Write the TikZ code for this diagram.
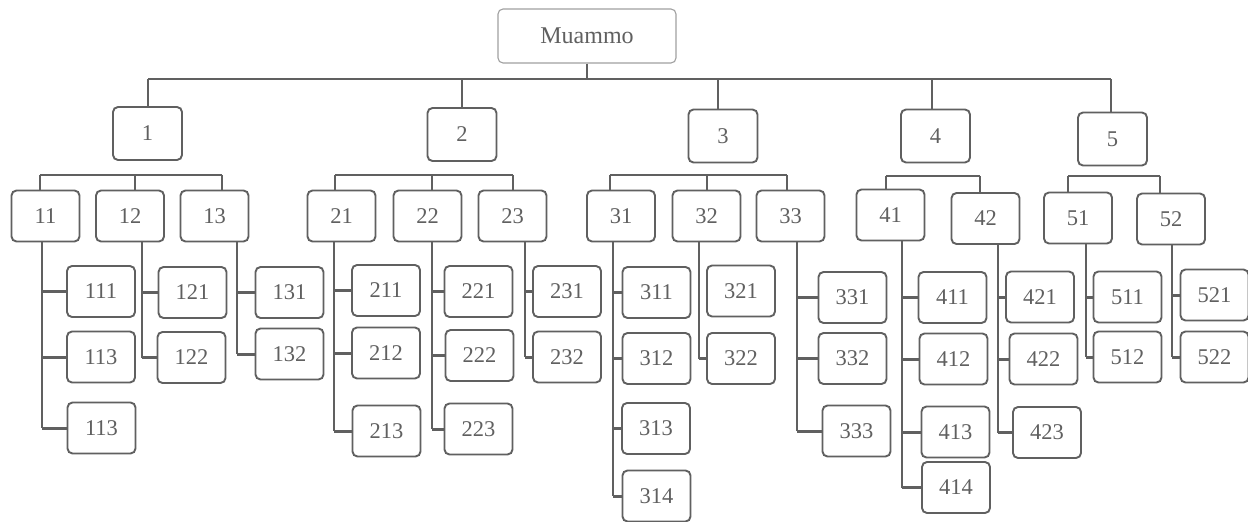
\documentclass[tikz,border=0pt]{standalone}
\usepackage{fontspec}
\setmainfont{Liberation Serif}
\usetikzlibrary{calc}
\definecolor{ln}{HTML}{606060}
\definecolor{tx}{HTML}{606060}
\definecolor{lb}{HTML}{A0A0A0}
\begin{document}
\begin{tikzpicture}[x=1pt,y=-1pt,
 box/.style={draw=ln, line width=1.9pt, rounded corners=5pt, minimum width=68pt, minimum height=51pt, inner sep=0pt, text=tx, font=\fontsize{22.5}{26}\selectfont},
 lvone/.style={box, minimum width=69pt, minimum height=53pt},
 root/.style={box, draw=lb, line width=1.1pt, minimum width=178pt, minimum height=54pt, font=\fontsize{24}{28}\selectfont},
 bus/.style={draw=ln, line width=1.6pt},
 drop/.style={draw=ln, line width=1.1pt},
 spine/.style={draw=ln, line width=2pt},
 stub/.style={draw=ln, line width=3pt}]
\useasboundingbox (0,0) rectangle (1248,522);
\fill[white] (0,0) rectangle (1248,522);

% root
\node[root] (root) at (587,36) {Muammo};
% level 1
\node[lvone] (n1) at (147.5,133.5) {1};
\node[lvone] (n2) at (462,134.5) {2};
\node[lvone] (n3) at (723,136) {3};
\node[lvone] (n4) at (935.5,136) {4};
\node[lvone] (n5) at (1112.5,139) {5};
% level 2
\node[box] (n11) at (45.5,216) {11};
\node[box] (n12) at (130,216) {12};
\node[box] (n13) at (214.5,216) {13};
\node[box] (n21) at (341.5,216) {21};
\node[box] (n22) at (427.5,216) {22};
\node[box] (n23) at (512.5,216) {23};
\node[box] (n31) at (621,216) {31};
\node[box] (n32) at (706.5,216) {32};
\node[box] (n33) at (790.5,216) {33};
\node[box] (n41) at (890.5,215) {41};
\node[box] (n42) at (985.5,218.5) {42};
\node[box] (n51) at (1078,218) {51};
\node[box] (n52) at (1171,219) {52};
% level 3
\node[box] (n111) at (101,291.5) {111};
\node[box] (n113a) at (101,357) {113};
\node[box] (n113b) at (101.5,428) {113};
\node[box] (n121) at (192.5,292.5) {121};
\node[box] (n122) at (191.5,357.5) {122};
\node[box] (n131) at (289.5,292.5) {131};
\node[box] (n132) at (289.5,354) {132};
\node[box] (n211) at (386,290.5) {211};
\node[box] (n212) at (386,353) {212};
\node[box] (n213) at (386.5,431) {213};
\node[box] (n221) at (478.5,291.5) {221};
\node[box] (n222) at (479.5,355.5) {222};
\node[box] (n223) at (478.5,429) {223};
\node[box] (n231) at (567,291.5) {231};
\node[box] (n232) at (567,357) {232};
\node[box] (n311) at (656.5,292.5) {311};
\node[box] (n312) at (656.5,358.5) {312};
\node[box] (n313) at (656,428.5) {313};
\node[box] (n314) at (656.5,496) {314};
\node[box] (n321) at (741,291) {321};
\node[box] (n322) at (741,358.5) {322};
\node[box] (n331) at (852.5,297.5) {331};
\node[box] (n332) at (852.5,358.5) {332};
\node[box] (n333) at (856.5,431) {333};
\node[box] (n411) at (952.5,297.5) {411};
\node[box] (n412) at (953.5,359) {412};
\node[box] (n413) at (955.5,432) {413};
\node[box] (n414) at (956,487.5) {414};
\node[box] (n421) at (1040,297) {421};
\node[box] (n422) at (1043.5,359) {422};
\node[box] (n423) at (1047,432.5) {423};
\node[box] (n511) at (1127.5,297) {511};
\node[box] (n512) at (1127.5,357) {512};
\node[box] (n521) at (1214.5,295) {521};
\node[box] (n522) at (1214.5,357) {522};

% top bus
\coordinate (top) at (0,79);
\draw[drop] (root.south) -- (root.south |- top);
\draw[bus] (n1.north) ++(0.5,0) coordinate (t1) -- (t1 |- top);
\draw[bus] (n2.north) coordinate (t2) -- (t2 |- top);
\draw[bus] (n3.north) ++(-5,0) coordinate (t3) -- (t3 |- top);
\draw[bus] (n4.north) ++(-3.5,0) coordinate (t4) -- (t4 |- top);
\draw[bus] (n5.north) ++(-1.5,0) coordinate (t5) -- (t5 |- top);
\draw[bus] (t1 |- top) -- (t5 |- top);

% level-2 buses
\coordinate (ba) at (0,175);
\coordinate (bb) at (0,176);
\draw[drop] (n11.north) ++(-5.5,0) coordinate (d11) -- (d11 |- ba);
\draw[drop] (n12.north) ++(5,0) coordinate (d12) -- (d12 |- ba);
\draw[drop] (n13.north) ++(7.5,0) coordinate (d13) -- (d13 |- ba);
\draw[bus] (d11 |- ba) -- (d13 |- ba);
\draw[drop] (n21.north) ++(-6.5,0) coordinate (d21) -- (d21 |- ba);
\draw[drop] (n22.north) ++(4.5,0) coordinate (d22) -- (d22 |- ba);
\draw[drop] (n23.north) ++(0.5,0) coordinate (d23) -- (d23 |- ba);
\draw[bus] (d21 |- ba) -- (d23 |- ba);
\draw[drop] (n31.north) ++(-11,0) coordinate (d31) -- (d31 |- ba);
\draw[drop] (n32.north) ++(0.5,0) coordinate (d32) -- (d32 |- ba);
\draw[drop] (n33.north) ++(-3.5,0) coordinate (d33) -- (d33 |- ba);
\draw[bus] (d31 |- ba) -- (d33 |- ba);
\draw[drop] (n41.north) ++(-4.5,0) coordinate (d41) -- (d41 |- bb);
\draw[drop] (n42.north) ++(-5.5,0) coordinate (d42) -- (d42 |- bb);
\draw[bus] (d41 |- bb) -- (d42 |- bb);
\draw[drop] (n51.north) ++(-10,0) coordinate (d51) -- (d51 |- bb);
\draw[drop] (n52.north) ++(-11,0) coordinate (d52) -- (d52 |- bb);
\draw[bus] (d51 |- bb) -- (d52 |- bb);

% spines and stubs
\draw[spine] (n11.south) ++(-3.5,0) coordinate (s11) -- (s11 |- n113b.west);
\draw[stub] (s11 |- n111.west) -- (n111.west);
\draw[stub] (s11 |- n113a.west) -- (n113a.west);
\draw[stub] (s11 |- n113b.west) -- (n113b.west);

\draw[spine] (n12.south) ++(12,0) coordinate (s12) -- (s12 |- n122.west);
\draw[stub] (s12 |- n121.west) -- (n121.west);
\draw[stub] (s12 |- n122.west) -- (n122.west);

\draw[spine] (n13.south) ++(22.5,0) coordinate (s13) -- (s13 |- n132.west);
\draw[stub] (s13 |- n131.west) -- (n131.west);
\draw[stub] (s13 |- n132.west) -- (n132.west);

\draw[spine] (n21.south) ++(-7.5,0) coordinate (s21) -- (s21 |- n213.west);
\draw[stub] (s21 |- n211.west) -- (n211.west);
\draw[stub] (s21 |- n212.west) -- (n212.west);
\draw[stub] (s21 |- n213.west) -- (n213.west);

\draw[spine] (n22.south) ++(4.5,0) coordinate (s22) -- (s22 |- n223.west);
\draw[stub] (s22 |- n221.west) -- (n221.west);
\draw[stub] (s22 |- n222.west) -- (n222.west);
\draw[stub] (s22 |- n223.west) -- (n223.west);

\draw[spine] (n23.south) ++(12.5,0) coordinate (s23) -- (s23 |- n232.west);
\draw[stub] (s23 |- n231.west) -- (n231.west);
\draw[stub] (s23 |- n232.west) -- (n232.west);

\draw[spine] (n31.south) ++(-8,0) coordinate (s31) -- (s31 |- n314.west);
\draw[stub] (s31 |- n311.west) -- (n311.west);
\draw[stub] (s31 |- n312.west) -- (n312.west);
\draw[stub] (s31 |- n313.west) -- (n313.west);
\draw[stub] (s31 |- n314.west) -- (n314.west);

\draw[spine] (n32.south) ++(-7.5,0) coordinate (s32) -- (s32 |- n322.west);
\draw[stub] (s32 |- n322.west) -- (n322.west);

\draw[spine] (n33.south) ++(6.5,0) coordinate (s33) -- (s33 |- n333.west);
\draw[stub] (s33 |- n331.west) -- (n331.west);
\draw[stub] (s33 |- n332.west) -- (n332.west);
\draw[stub] (s33 |- n333.west) -- (n333.west);

\draw[spine] (n41.south) ++(11.5,0) coordinate (s41) -- (s41 |- n414.west);
\draw[stub] (s41 |- n411.west) -- (n411.west);
\draw[stub] (s41 |- n412.west) -- (n412.west);
\draw[stub] (s41 |- n413.west) -- (n413.west);
\draw[stub] (s41 |- n414.west) -- (n414.west);

\draw[spine] (n42.south) ++(12.5,0) coordinate (s42) -- (s42 |- n423.west);
\draw[stub] (s42 |- n421.west) -- (n421.west);
\draw[stub] (s42 |- n422.west) -- (n422.west);
\draw[stub] (s42 |- n423.west) -- (n423.west);

\draw[spine] (n51.south) ++(8,0) coordinate (s51) -- (s51 |- n512.west);
\draw[stub] (s51 |- n511.west) -- (n511.west);
\draw[stub] (s51 |- n512.west) -- (n512.west);

\draw[spine] (n52.south) ++(1,0) coordinate (s52) -- (s52 |- n522.west);
\draw[stub] (s52 |- n521.west) -- (n521.west);
\draw[stub] (s52 |- n522.west) -- (n522.west);
\end{tikzpicture}
\end{document}
